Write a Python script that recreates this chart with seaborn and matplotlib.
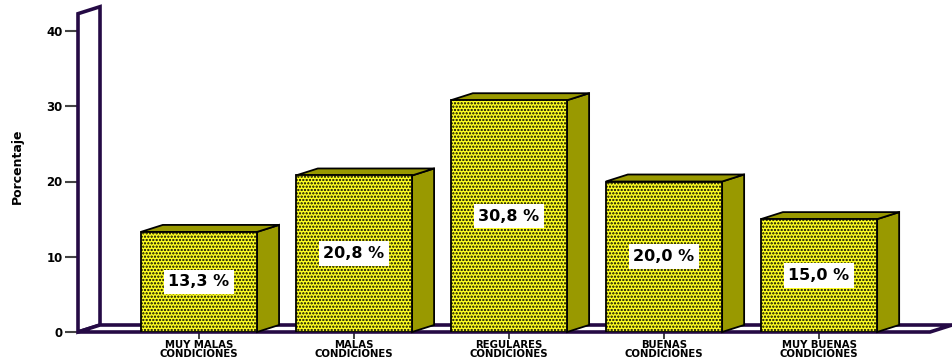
import matplotlib
matplotlib.use("Agg")
import matplotlib.pyplot as plt
import seaborn as sns
import pandas as pd

# Data
categories = ["MUY MALAS\nCONDICIONES", "MALAS\nCONDICIONES", "REGULARES\nCONDICIONES",
              "BUENAS\nCONDICIONES", "MUY BUENAS\nCONDICIONES"]
values = [13.3, 20.8, 30.8, 20.0, 15.0]
value_labels = ["13,3 %", "20,8 %", "30,8 %", "20,0 %", "15,0 %"]
y_ticks = [0, 10, 20, 30, 40]

sns.set_style("white")
plt.rcParams["font.family"] = ["DejaVu Sans"]
plt.rcParams["hatch.linewidth"] = 1.1
plt.rcParams["hatch.color"] = "#1a1a00"

fig = plt.figure(figsize=(9.52, 3.6), dpi=100)
ax = fig.add_axes([78 / 952, 28 / 360, (930 - 78) / 952, 44 * 7.525 / 360])

df = pd.DataFrame({"cat": categories, "val": values})
sns.barplot(data=df, x="cat", y="val", ax=ax, color="#ffff22", width=0.75,
            edgecolor="black", linewidth=1.3, saturation=1, zorder=3)

xmin, xmax = -0.78, 4.716
ax.set_xlim(xmin, xmax)
ax.set_ylim(0, 44)

# depth offsets for the pseudo-3D look
dx, dy = 0.142, 0.93
purple = "#250a45"

# back wall and floor
wall_top = 42.3
ax.fill([xmin, xmin, xmin + dx, xmin + dx], [0, wall_top, wall_top + dy, dy],
        facecolor="white", edgecolor=purple, linewidth=2.6, zorder=1,
        clip_on=False, joinstyle="miter")
ax.fill([xmin, xmax, xmax + dx, xmin + dx], [0, 0, dy, dy],
        facecolor="white", edgecolor=purple, linewidth=2.6, zorder=1,
        clip_on=False, joinstyle="miter")

side_color = "#999900"
for patch, lab in zip(ax.patches, value_labels):
    patch.set_hatch(".....")
    x0 = patch.get_x()
    w = patch.get_width()
    h = patch.get_height()
    x1 = x0 + w
    # right side face
    ax.fill([x1, x1 + dx, x1 + dx, x1], [0, dy, h + dy, h],
            facecolor=side_color, edgecolor="black", linewidth=1.3, zorder=2,
            clip_on=False)
    # top face
    ax.fill([x0, x0 + dx, x1 + dx, x1], [h, h + dy, h + dy, h],
            facecolor=side_color, edgecolor="black", linewidth=1.3, zorder=2,
            clip_on=False)
    ax.text(x0 + w / 2, h / 2, lab, ha="center", va="center", fontsize=11.5,
            fontweight="bold", color="black", zorder=5,
            bbox=dict(boxstyle="square,pad=0.3", facecolor="white",
                      edgecolor="none"))

for s in ax.spines.values():
    s.set_visible(False)

ax.set_yticks(y_ticks)
ax.set_yticklabels([str(t) for t in y_ticks], fontsize=8.5, fontweight="bold",
                   color="black")
ax.tick_params(axis="y", length=9.5, width=1.5, color="#444444", pad=1.5, left=True)
ax.tick_params(axis="x", length=5, width=1.3, color="#333333", pad=0.8, bottom=True,
               labelsize=7.3, labelcolor="black")
for t in ax.get_xticklabels():
    t.set_fontweight("bold")
    t.set_linespacing(0.88)

ax.set_xlabel("")
ax.set_ylabel("Porcentaje", fontsize=9, fontweight="bold", labelpad=16,
              color="black")

fig.savefig("out.png", dpi=100)
